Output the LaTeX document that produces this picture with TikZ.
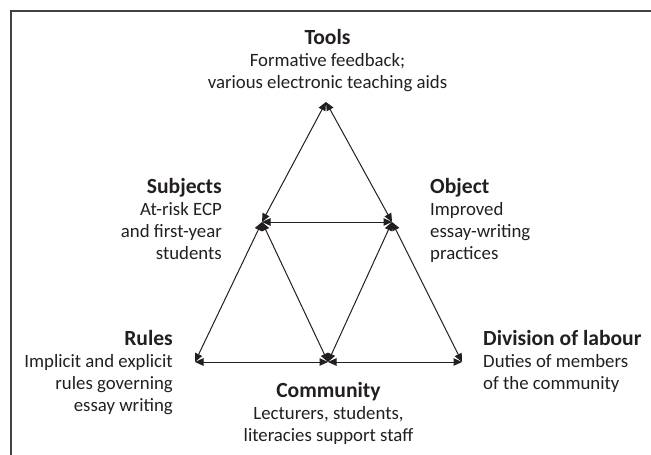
\documentclass[tikz,border=0pt]{standalone}
\usepackage{fontspec}
\setmainfont{Carlito}
\usetikzlibrary{arrows.meta}
\definecolor{ink}{HTML}{231F20}
\newcommand\ttl[1]{{\fontsize{21.6}{22.3}\selectfont\bfseries #1}}
\tikzset{
  blk/.style={inner sep=0pt, text=ink, font=\fontsize{18.8}{22.3}\selectfont},
  link/.style={draw=ink, line width=1pt, {Triangle[length=8.5pt,width=7.5pt]}-{Triangle[length=8.5pt,width=7.5pt]}},
  frame/.style={draw=ink!85, line width=1.3pt}
}
\begin{document}
\begin{tikzpicture}[x=1pt,y=-1pt]
\useasboundingbox (0,0) rectangle (651,455);
\draw[frame] (11,455) -- (11,11) -- (651,11);
% vertices
\coordinate (T) at (326,102);
\coordinate (S) at (262,222);
\coordinate (O) at (392,222);
\coordinate (R) at (195,362);
\coordinate (C) at (328,362);
\coordinate (D) at (462,362);
% connectors
\draw[link] (T) -- (S);
\draw[link] (T) -- (O);
\draw[link] (S) -- (O);
\draw[link] (S) -- (R);
\draw[link] (S) -- (C);
\draw[link] (O) -- (C);
\draw[link] (O) -- (D);
\draw[link] (R) -- (C);
\draw[link] (C) -- (D);
% labels
\node[blk, anchor=base] (tools) at (327.5,44) {\begin{tabular}[t]{@{}c@{}}\ttl{Tools}\\Formative feedback;\\various electronic teaching aids\end{tabular}};
\node[blk, anchor=base east] (subjects) at (222,193) {\begin{tabular}[t]{@{}r@{}}\ttl{Subjects}\\At-risk ECP\\and first-year\\students\end{tabular}};
\node[blk, anchor=base west] (object) at (430,193) {\begin{tabular}[t]{@{}l@{}}\ttl{Object}\\Improved\\essay-writing\\practices\end{tabular}};
\node[blk, anchor=base east] (rules) at (173,345) {\begin{tabular}[t]{@{}r@{}}\ttl{Rules}\\Implicit and explicit\\rules governing\\essay writing\end{tabular}};
\node[blk, anchor=base west] (division) at (483,345) {\begin{tabular}[t]{@{}l@{}}\ttl{Division of labour}\\Duties of members\\of the community\end{tabular}};
\node[blk, anchor=base] (community) at (328.5,397) {\begin{tabular}[t]{@{}c@{}}\ttl{Community}\\Lecturers, students,\\literacies support staff\end{tabular}};
\end{tikzpicture}
\end{document}
